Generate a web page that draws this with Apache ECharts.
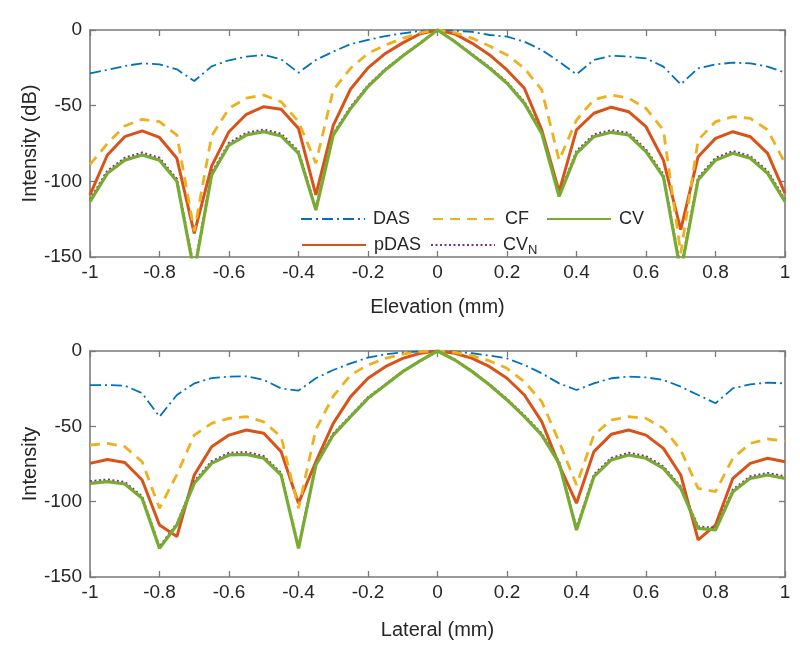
<!DOCTYPE html>
<html><head><meta charset="utf-8">
<script src="https://cdn.jsdelivr.net/npm/echarts@6/dist/echarts.min.js"></script>
<style>html,body{margin:0;padding:0;background:#fff}#c{width:800px;height:654px}</style>
</head><body><div id="c"></div>
<script>
const xs = [-1,-0.95,-0.9,-0.85,-0.8,-0.75,-0.7,-0.65,-0.6,-0.55,-0.5,-0.45,-0.4,-0.35,-0.3,-0.25,-0.2,-0.15,-0.1,-0.05,0,
  0.05,0.1,0.15,0.2,0.25,0.3,0.35,0.4,0.45,0.5,0.55,0.6,0.65,0.7,0.75,0.8,0.85,0.9,0.95,1];
const xTicks = [-1,-0.8,-0.6,-0.4,-0.2,0,0.2,0.4,0.6,0.8,1];
const yTicks = [-150,-100,-50,0];

// Elevation (top)
const dasTop  = [-28.6,-26.4,-23.8,-22,-22.7,-26,-33.7,-24,-20,-17.6,-16.5,-19.4,-28.2,-19.8,-14.3,-9.3,-6.6,-4,-2.2,-0.7,0,
  -0.4,-1.3,-3.3,-4.4,-7.7,-13.2,-20.9,-29.3,-19.8,-17,-17.6,-18.7,-24.2,-35.9,-25.3,-22.7,-21.6,-22,-24.2,-28.2];
const pdasTop = [-109,-82.6,-70.5,-66.7,-71,-84.8,-134.4,-90,-67.2,-55.7,-50.7,-52.4,-65,-109,-63,-39,-25,-15.5,-8.5,-2.5,0,
  -2.6,-8.8,-16.5,-26.4,-38.5,-66,-106.8,-66,-55,-51,-54,-63.9,-86,-132,-83.7,-71.6,-67.2,-70.5,-81.5,-108];
const cfTop   = [-89,-75,-63.4,-59,-60.6,-69.4,-133,-70,-51.8,-45,-43,-47.4,-60.6,-88,-39.6,-25.3,-15.4,-10,-5.5,-1.8,0,
  -1.8,-5.5,-10.6,-16.5,-25.3,-39.6,-86,-59.5,-46,-43,-45,-51.8,-66,-147.6,-72.7,-60.6,-57.3,-58.4,-66,-88];
const cvTop   = [-113.4,-94.7,-86,-82.6,-86,-100,-160,-95.8,-76,-69.4,-67.2,-70,-81.5,-119,-69.4,-51.8,-37.4,-26.4,-17.2,-8.8,0,
  -7.7,-16.5,-25.3,-35.2,-48.5,-68.3,-110,-81.5,-70.5,-67.6,-69.4,-80.4,-97,-160,-99,-86,-81.5,-84.8,-94.7,-113.4];
const cvnTop  = [-112,-93,-84.5,-81,-84.5,-98.5,-158,-94.5,-74.5,-68,-65.8,-68.5,-80,-118,-68.4,-50.8,-36.6,-25.8,-16.8,-8.6,0,
  -7.5,-16,-24.6,-34.4,-47.5,-67.3,-109,-80,-69,-66.2,-68,-79,-95.5,-158,-97.5,-84.5,-80,-83.3,-93.2,-112];

// Lateral (bottom)
const dasBot  = [-22.6,-22.6,-23,-28,-43.6,-29.2,-21.5,-18,-17,-16.8,-19.2,-24.8,-26.3,-18.1,-12.6,-8.2,-4.4,-2.2,-0.9,-0.4,0,
  -0.4,-1.5,-3.1,-4.9,-9.3,-14.8,-21.5,-25.9,-21.5,-18.1,-17,-17.5,-19.2,-23.7,-29.2,-34.7,-24.8,-22.1,-21,-21.5];
const pdasBot = [-74.6,-72,-74,-85.6,-115.5,-123.2,-82.3,-63.5,-55.8,-52.4,-54.6,-66.8,-101,-73.5,-48,-30.3,-18.1,-10.4,-4.9,-1.5,0,
  -1.5,-4.9,-10.4,-18.1,-29.2,-46.9,-75.7,-101,-66.8,-55.3,-52.4,-55.8,-64.6,-82.3,-125.4,-115.5,-84.5,-74.6,-71.2,-73.5];
const cfBot   = [-62.4,-61.3,-63.5,-73.5,-104.4,-82,-55.8,-48,-44.7,-43.6,-47,-56.9,-104.4,-52,-30,-15.9,-9.3,-4.9,-2,-0.4,0,
  -0.9,-3.1,-6.6,-11.5,-20.4,-33.6,-60.2,-89,-55.8,-45.8,-43.6,-44.7,-51.3,-65.7,-91.2,-93.4,-71.2,-61.3,-58.4,-59.7];
const cvBot   = [-87.8,-86.7,-88.3,-97.8,-131,-115.5,-87.8,-74.6,-69,-68.6,-71.2,-82.3,-131,-75.7,-55.8,-43.6,-31.4,-22.6,-13.7,-6.6,0,
  -6,-13.7,-22.6,-32.5,-43.6,-55.8,-74.6,-118.8,-83.4,-72.3,-69,-71.2,-77.9,-91.2,-117.7,-118.8,-93.4,-84.5,-82.3,-84.5];
const cvnBot  = [-86.5,-85.3,-87,-96.5,-130,-114.5,-86.5,-73.2,-67.6,-67.2,-69.8,-81,-130,-74.6,-54.8,-42.8,-30.7,-22.1,-13.4,-6.4,0,
  -5.8,-13.4,-22.1,-31.8,-42.8,-54.8,-73.5,-117.5,-82,-71,-67.6,-69.8,-76.6,-90,-116.5,-117.5,-92,-83.2,-81,-83.2];

const seriesNames = ['DAS','pDAS','CF','CV_N','CV'];
const colors = {DAS:'#0072BD', pDAS:'#D95319', CF:'#EDB120', CV_N:'#7E2F8E', CV:'#77AC30'};
const styles = {
  DAS:{width:1.8, type:[11,4,2,4]},
  pDAS:{width:3, type:'solid'},
  CF:{width:2.8, type:[10,7]},
  CV_N:{width:2.2, type:[2,2.5]},
  CV:{width:3.2, type:'solid'}
};
const topData = {DAS:dasTop, pDAS:pdasTop, CF:cfTop, CV_N:cvnTop, CV:cvTop};
const botData = {DAS:dasBot, pDAS:pdasBot, CF:cfBot, CV_N:cvnBot, CV:cvBot};

const FONT = "'Liberation Sans', Arial, sans-serif";
const AX = '#7a7a7a', TXT = '#262626';
const G = [{left:90, width:695, top:30, height:227},{left:90, width:695, top:351, height:226}];

function fmtX(v){ return String(+v.toFixed(1)); }
function xAxes(gi, name, gap){
  return [
    {gridIndex:gi, type:'value', min:-1, max:1, interval:0.2, position:'bottom',
     name:name, nameLocation:'middle', nameGap:gap, nameMoveOverlap:false,
     nameTextStyle:{fontFamily:FONT, fontSize:20, color:TXT},
     axisLine:{onZero:false, lineStyle:{color:AX, width:1.6}},
     axisTick:{inside:true, length:6, lineStyle:{color:AX, width:1.3}},
     axisLabel:{fontFamily:FONT, fontSize:19, color:TXT, margin:6, formatter:fmtX},
     splitLine:{show:false}},
    {gridIndex:gi, type:'value', min:-1, max:1, interval:0.2, position:'top',
     axisLine:{onZero:false, lineStyle:{color:AX, width:1.6}},
     axisTick:{inside:true, length:6, lineStyle:{color:AX, width:1.3}},
     axisLabel:{show:false}, splitLine:{show:false}}
  ];
}
function yAxes(gi, name){
  return [
    {gridIndex:gi, type:'value', min:-150, max:0, interval:50, position:'left',
     name:name, nameLocation:'middle', nameGap:50, nameRotate:90, nameMoveOverlap:false,
     nameTextStyle:{fontFamily:FONT, fontSize:20, color:TXT},
     axisLine:{onZero:false, lineStyle:{color:AX, width:1.6}},
     axisTick:{inside:true, length:6, lineStyle:{color:AX, width:1.3}},
     axisLabel:{fontFamily:FONT, fontSize:19, color:TXT, margin:8},
     splitLine:{show:false}},
    {gridIndex:gi, type:'value', min:-150, max:0, interval:50, position:'right',
     axisLine:{onZero:false, lineStyle:{color:AX, width:1.6}},
     axisTick:{inside:true, length:6, lineStyle:{color:AX, width:1.3}},
     axisLabel:{show:false}, splitLine:{show:false}}
  ];
}

const series = [];
[[topData,0],[botData,1]].forEach(([d,gi])=>{
  seriesNames.forEach(n=>{
    series.push({
      name:n, type:'line', xAxisIndex:gi*2, yAxisIndex:gi*2,
      data: xs.map((x,i)=>[x, d[n][i]]),
      symbol:'none', clip:true, animation:false,
      lineStyle:{color:colors[n], width:styles[n].width, type:styles[n].type},
      itemStyle:{color:colors[n]}
    });
  });
});

const legendPos = {
  DAS:{left:300, top:210}, CF:{left:432, top:210}, CV:{left:546, top:210},
  pDAS:{left:301, top:236}, CV_N:{left:430, top:236}
};
const legends = Object.keys(legendPos).map(n=>({
  data:[n], left:legendPos[n].left, top:legendPos[n].top, orient:'horizontal',
  itemWidth:64, itemHeight:16, padding:0, selectedMode:false,
  itemStyle:{opacity:0, borderWidth:0},
  formatter: nm => nm==='CV_N' ? '{m|CV}{s|N}' : '{m|'+nm+'}',
  textStyle:{fontFamily:FONT, fontSize:18, color:TXT, padding:[0,0,0,3],
    rich:{m:{fontFamily:FONT, fontSize:18, color:TXT}, s:{fontFamily:FONT, fontSize:13, color:TXT, verticalAlign:'bottom', padding:[10,0,0,0]}}}
}));

const chart = echarts.init(document.getElementById('c'), null, {renderer:'canvas'});
chart.setOption({
  animation:false,
  backgroundColor:'#fff',
  grid:G,
  xAxis:[...xAxes(0,'Elevation (mm)',40), ...xAxes(1,'Lateral (mm)',43)],
  yAxis:[...yAxes(0,'Intensity (dB)'), ...yAxes(1,'Intensity')],
  legend:legends,
  series:series
});
</script></body></html>
